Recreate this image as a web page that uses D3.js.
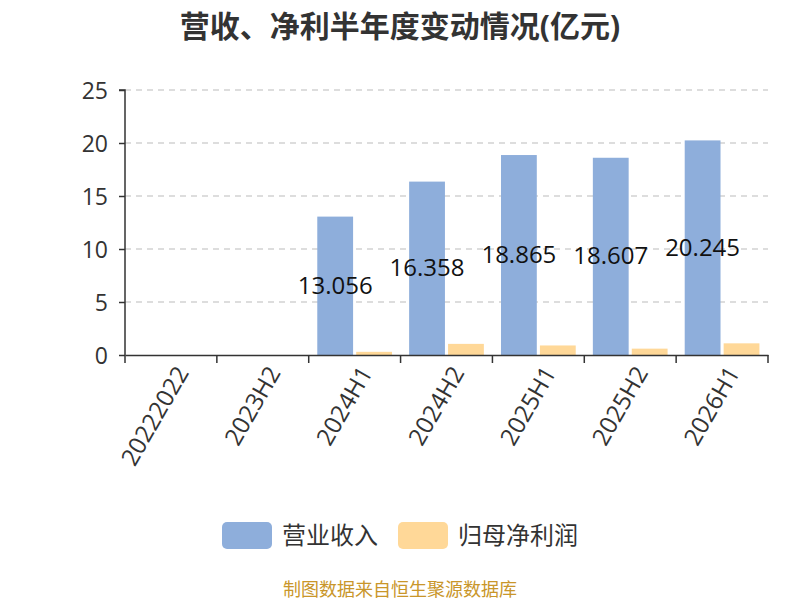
<!DOCTYPE html>
<html><head><meta charset="utf-8">
<script src="https://cdn.jsdelivr.net/npm/d3@7"></script>
<style>body{margin:0;background:#fff;} text{font-family:"Open Sans","Noto Sans CJK SC",sans-serif;}</style>
</head><body>
<svg id="c" width="800" height="600"></svg>
<script>
const categories = ["20222022","2023H2","2024H1","2024H2","2025H1","2025H2","2026H1"];
const revenue = [null, null, 13.056, 16.358, 18.865, 18.607, 20.245];
const netProfit = [null, null, 0.3, 1.05, 0.9, 0.6, 1.1];
const yTicks = [0,5,10,15,20,25];
const seriesNames = ["营业收入","归母净利润"];
const colors = ["#8eaedb","#ffd898"];

const svg = d3.select("#c");
const m = {l:125, r:768, t:90, b:355};
const x = d3.scaleBand().domain(categories).range([m.l, m.r]);
const y = d3.scaleLinear().domain([0,25]).range([m.b, m.t]);
const inner = d3.scaleBand().domain([0,1]).range([0, x.bandwidth()]).paddingInner(0.08).paddingOuter(0.22);

svg.append("text").attr("x",400).attr("y",37).attr("text-anchor","middle")
  .attr("font-size",30).attr("font-weight","bold").attr("fill","#333").text("营收、净利半年度变动情况(亿元)");

// grid
svg.append("g").selectAll("line").data(yTicks.filter(d=>d>0)).join("line")
  .attr("x1",m.l).attr("x2",m.r).attr("y1",d=>y(d)).attr("y2",d=>y(d))
  .attr("stroke","#bbb").attr("stroke-dasharray","6,5");

// bars
[revenue, netProfit].forEach((vals,si)=>{
  svg.append("g").selectAll("rect").data(categories.map((c,i)=>({c,v:vals[i]})).filter(d=>d.v!=null)).join("rect")
    .attr("x",d=>x(d.c)+inner(si)).attr("width",inner.bandwidth())
    .attr("y",d=>y(d.v)).attr("height",d=>y(0)-y(d.v)).attr("fill",colors[si]);
});
// labels
svg.append("g").selectAll("text").data(categories.map((c,i)=>({c,v:revenue[i]})).filter(d=>d.v!=null)).join("text")
  .attr("x",d=>x(d.c)+inner(0)+inner.bandwidth()/2).attr("y",d=>(y(d.v)+y(0))/2+8)
  .attr("text-anchor","middle").attr("font-size",24).attr("fill","#111").text(d=>d.v.toFixed(3));

// y axis
const ya = svg.append("g").attr("transform",`translate(${m.l},0)`)
  .call(d3.axisLeft(y).tickValues(yTicks).tickSize(6).tickPadding(11));
ya.selectAll("text").attr("font-size",23).attr("fill","#333").attr("dy","0.35em").style("font-family","'Open Sans',sans-serif");
ya.selectAll("line,path").attr("stroke","#333").attr("stroke-width",1.5);
ya.select("path").attr("d",`M-6,${m.t}H0V${m.b}`);

// x axis
const xa = svg.append("g").attr("transform",`translate(0,${m.b})`)
  .call(d3.axisBottom(x).tickSizeOuter(0).tickSize(0));
xa.selectAll("line,path").attr("stroke","#333").attr("stroke-width",1.5);
xa.selectAll("text").attr("font-size",24).attr("fill","#333").style("font-family","'Open Sans',sans-serif")
  .attr("text-anchor","end").attr("dy",0).attr("transform","translate(16,16) rotate(-60)");
const bounds = categories.map(c=>x(c)).concat([m.r]);
xa.append("g").selectAll("line").data(bounds).join("line")
  .attr("x1",d=>d).attr("x2",d=>d).attr("y1",0).attr("y2",8).attr("stroke","#333").attr("stroke-width",1.5);

// legend
const lg = svg.append("g");
[[222,282],[398,458]].forEach((p,i)=>{
  lg.append("rect").attr("x",p[0]).attr("y",522).attr("width",50).attr("height",27).attr("rx",5).attr("fill",colors[i]);
  lg.append("text").attr("x",p[1]).attr("y",544).attr("font-size",24).attr("fill","#333").text(seriesNames[i]);
});
svg.append("text").attr("x",400).attr("y",596).attr("text-anchor","middle").attr("font-size",18)
  .attr("fill","#c9962a").text("制图数据来自恒生聚源数据库");
</script>
</body></html>
